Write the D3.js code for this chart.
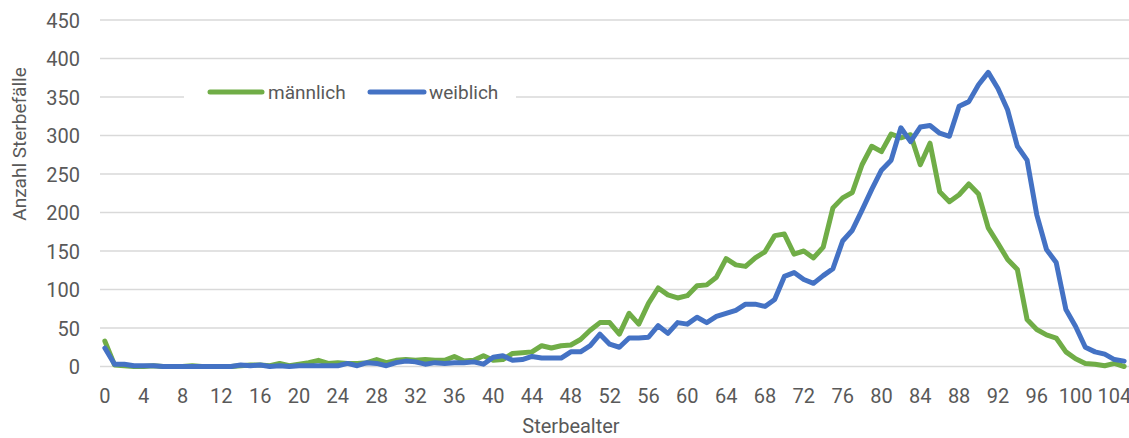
<!DOCTYPE html>
<html><head><meta charset="utf-8">
<script src="https://cdn.jsdelivr.net/npm/d3@7"></script>
<style>
html,body{margin:0;padding:0;background:#fff;}
svg{display:block;}
text{font-family:Roboto, "Noto Sans", sans-serif;fill:#595959;}
</style></head>
<body>
<svg id="chart" width="1129" height="438"></svg>
<script>
const ages = d3.range(0, 106);
const maennlich = [33,2,1,0,0,1,0,0,0,1,0,0,0,0,1,2,2,1,4,1,3,5,8,4,5,4,4,5,9,5,8,9,8,9,8,8,13,7,8,14,8,9,17,18,19,27,24,27,28,35,47,57,57,42,69,55,82,102,93,89,92,105,106,116,140,132,130,141,149,170,172,146,150,141,155,206,219,226,262,286,279,302,297,301,262,290,227,214,223,237,224,180,160,139,126,61,48,41,37,19,10,4,3,1,4,0];
const weiblich = [24,3,3,1,1,1,0,0,0,0,0,0,0,0,2,1,2,0,1,0,1,1,1,1,1,4,1,5,4,1,5,7,6,3,5,4,5,5,6,3,12,14,8,9,13,11,11,11,19,19,27,42,29,25,37,37,38,53,43,57,55,64,57,65,69,73,81,81,78,87,117,122,113,108,118,127,163,177,203,230,255,268,310,292,311,313,303,299,338,344,366,382,361,333,286,268,197,152,135,74,52,25,19,16,9,7];
const yTicks = [0,50,100,150,200,250,300,350,400,450];
const xTickLabels = d3.range(0, 105, 4);
const seriesNames = ["männlich", "weiblich"];
const seriesColors = ["#70AD47", "#4472C4"];

const svg = d3.select("#chart");
const x = d3.scaleBand().domain(ages).range([100, 1129]).paddingInner(0).paddingOuter(0);
const y = d3.scaleLinear().domain([0, 450]).range([366.5, 20]);
const cx = a => x(a) + x.bandwidth() / 2;

// gridlines
svg.append("g").selectAll("line").data(yTicks).join("line")
  .attr("x1", 100).attr("x2", 1129)
  .attr("y1", d => y(d)).attr("y2", d => y(d))
  .attr("stroke", "#d9d9d9").attr("stroke-width", 1.5);

// y axis
const yAxis = svg.append("g").attr("transform", "translate(80,0)")
  .call(d3.axisLeft(y).tickValues(yTicks).tickSize(0).tickPadding(0));
yAxis.select(".domain").remove();
yAxis.selectAll("text").attr("font-size", 20).attr("fill", "#595959")
  .style("font-family", "Roboto, sans-serif").attr("x", 0).attr("dy", "0.36em");

// x axis
const xAxis = svg.append("g").attr("transform", "translate(0,366.5)")
  .call(d3.axisBottom(x).tickValues(xTickLabels).tickSize(0));
xAxis.select(".domain").remove();
xAxis.selectAll("text").attr("font-size", 20).attr("fill", "#595959")
  .style("font-family", "Roboto, sans-serif").attr("y", 36.5).attr("dy", 0);

// lines
const line = d3.line().x((d, i) => cx(ages[i])).y(d => y(d));
[maennlich, weiblich].forEach((s, i) => {
  svg.append("path").datum(s).attr("d", line)
    .attr("fill", "none").attr("stroke", seriesColors[i])
    .attr("stroke-width", 5).attr("stroke-linejoin", "round").attr("stroke-linecap", "round");
});

// axis titles
svg.append("text").attr("x", 571).attr("y", 433).attr("text-anchor", "middle")
  .attr("font-size", 20).text("Sterbealter");
svg.append("text").attr("transform", "translate(26,144) rotate(-90)").attr("text-anchor", "middle")
  .attr("font-size", 19).text("Anzahl Sterbefälle");

// legend
const lg = svg.append("g");
lg.append("rect").attr("x", 184).attr("y", 80).attr("width", 332).attr("height", 26).attr("fill", "#fff");
const legendX = [[210, 262, 268], [370, 424, 429]];
seriesNames.forEach((n, i) => {
  lg.append("line").attr("x1", legendX[i][0]).attr("x2", legendX[i][1]).attr("y1", 92).attr("y2", 92)
    .attr("stroke", seriesColors[i]).attr("stroke-width", 5).attr("stroke-linecap", "round");
  lg.append("text").attr("x", legendX[i][2]).attr("y", 92).attr("dy", "0.35em")
    .attr("font-size", 19).text(n);
});
</script>
</body></html>
